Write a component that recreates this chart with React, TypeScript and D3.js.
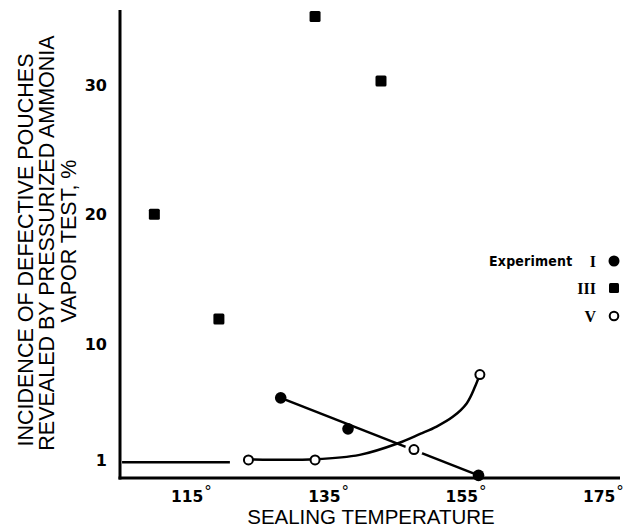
import * as d3 from "d3";

// sealing temperature (deg) and incidence of defective pouches (%)
const tempTicks = [115, 135, 155, 175];
const pctTicks = [1, 10, 20, 30];

const expI: [number, number][] = [
  [128.6, 5.8],
  [138.4, 3.4],
  [157.4, -0.2],
];
const expIII: [number, number][] = [
  [110.2, 20.0],
  [119.6, 11.9],
  [133.6, 35.3],
  [143.2, 30.3],
];
const expV: [number, number][] = [
  [123.9, 1.0],
  [133.6, 1.0],
  [148.0, 1.8],
  [157.6, 7.6],
];
const expVCurve: [number, number][] = [
  [123.9, 1.04],
  [133.6, 1.05],
  [140.1, 1.39],
  [145.7, 2.29],
  [148.9, 3.01],
  [151.3, 3.58],
  [153.7, 4.35],
  [155.7, 5.39],
  [156.9, 6.67],
  [157.6, 7.63],
];
// reference level line near 1 %
const baseline: [number, number][] = [
  [105.5, 0.82],
  [121.2, 0.82],
];

const legendNames = ["I", "III", "V"];
const yTitle = [
  "INCIDENCE OF DEFECTIVE POUCHES",
  "REVEALED BY PRESSURIZED AMMONIA",
  "VAPOR TEST, %",
];

const W = 623;
const H = 529;
const sans = "'Liberation Sans', Arial, Helvetica, sans-serif";
const tickFont = "'DejaVu Sans', sans-serif";

export default function App() {
  const x = d3.scaleLinear().domain([105.2, 178]).range([120, 620]);
  const y = d3.scaleLinear().domain([-0.4, 35.8]).range([478, 10]);

  const straight = d3
    .line<[number, number]>()
    .x((d) => x(d[0]))
    .y((d) => y(d[1]));
  const smooth = d3
    .line<[number, number]>()
    .x((d) => x(d[0]))
    .y((d) => y(d[1]))
    .curve(d3.curveCatmullRom.alpha(0.5));

  const iFit = [expI[0], expI[expI.length - 1]];
  const sq = 11;

  const legendY = [261, 288, 316];

  return (
    <svg
      width={W}
      height={H}
      style={{ position: "absolute", left: 0, top: 0, background: "#fff" }}
    >
      {/* axes */}
      <line x1={120} x2={120} y1={10} y2={479.5} stroke="#000" strokeWidth={3} />
      <line x1={118.5} x2={620} y1={478} y2={478} stroke="#000" strokeWidth={3} />

      {/* y tick labels */}
      {pctTicks.map((t) => (
        <text
          key={t}
          x={107}
          y={(t === 1 ? 460 : y(t)) + 6}
          textAnchor="end"
          fontFamily={tickFont}
          fontWeight="bold"
          fontSize={16}
        >
          {t}
        </text>
      ))}

      {/* x tick labels */}
      {tempTicks.map((t) => (
        <text
          key={t}
          x={x(t) + 4}
          y={502}
          textAnchor="middle"
          fontFamily={tickFont}
          fontWeight="bold"
          fontSize={15.5}
        >
          {t}
          <tspan fontSize={15} dy={-5} dx={1} fontWeight="normal">
            °
          </tspan>
        </text>
      ))}

      {/* titles */}
      <text
        x={371}
        y={524}
        textAnchor="middle"
        fontFamily={sans}
        fontSize={20.5}
      >
        SEALING TEMPERATURE
      </text>
      {yTitle.map((s, i) => {
        const bx = [33, 54, 76][i];
        const cy = [250, 243, 241][i];
        return (
          <text
            key={s}
            transform={`translate(${bx},${cy}) rotate(-90)`}
            textAnchor="middle"
            fontFamily={sans}
            fontSize={21.5}
          >
            {s}
          </text>
        );
      })}

      {/* lines */}
      <path d={straight(baseline) || ""} fill="none" stroke="#000" strokeWidth={2.5} />
      <path d={straight(iFit) || ""} fill="none" stroke="#000" strokeWidth={2.5} />
      {expV.map((d, i) => (
        <circle key={"h" + i} cx={x(d[0])} cy={y(d[1])} r={9} fill="#fff" />
      ))}
      <path d={smooth(expVCurve) || ""} fill="none" stroke="#000" strokeWidth={2.5} />

      {/* markers */}
      {expIII.map((d, i) => (
        <rect
          key={"s" + i}
          x={x(d[0]) - sq / 2}
          y={y(d[1]) - sq / 2}
          width={sq}
          height={sq}
          rx={1.5}
          fill="#000"
        />
      ))}
      {expI.map((d, i) => (
        <circle key={"f" + i} cx={x(d[0])} cy={y(d[1])} r={5.8} fill="#000" />
      ))}
      {expV.map((d, i) => (
        <circle
          key={"o" + i}
          cx={x(d[0])}
          cy={y(d[1])}
          r={4.5}
          fill="#fff"
          stroke="#000"
          strokeWidth={2}
        />
      ))}

      {/* legend */}
      <text
        x={489}
        y={266}
        fontFamily="'Liberation Sans Narrow', 'DejaVu Sans Condensed', sans-serif"
        fontStretch="condensed"
        fontWeight="bold"
        fontSize={14}
        letterSpacing={0.2}
      >
        Experiment
      </text>
      {legendNames.map((n, i) => (
        <text
          key={n}
          x={596}
          y={legendY[i] + 6}
          textAnchor="end"
          fontFamily="'Liberation Serif', serif"
          fontWeight="bold"
          fontSize={16}
        >
          {n}
        </text>
      ))}
      <circle cx={614} cy={legendY[0]} r={5.5} fill="#000" />
      <rect x={614 - 5} y={legendY[1] - 5} width={10} height={10} rx={1.5} fill="#000" />
      <circle cx={614} cy={legendY[2]} r={4.3} fill="#fff" stroke="#000" strokeWidth={2} />
    </svg>
  );
}
